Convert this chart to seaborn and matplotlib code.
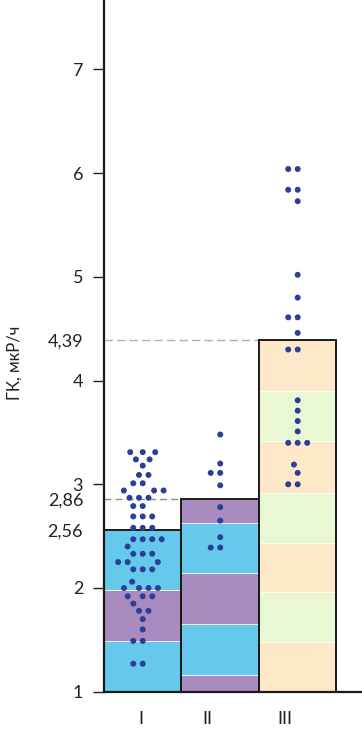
import numpy as np
import matplotlib
matplotlib.use("Agg")
import matplotlib.pyplot as plt
import pandas as pd
import seaborn as sns

# groups and mean values
groups = ["I", "II", "III"]
means = [2.56, 2.86, 4.39]

vals_I = [3.31, 3.31, 3.31, 3.24, 3.24, 3.18, 3.09, 3.09, 3.01, 3.01,
          2.94, 2.94, 2.94, 2.87, 2.87, 2.87, 2.79, 2.79, 2.69, 2.69,
          2.69, 2.58, 2.58, 2.58, 2.47, 2.47, 2.47, 2.47, 2.40, 2.33,
          2.33, 2.33, 2.25, 2.25, 2.25, 2.18, 2.18, 2.18, 2.06, 2.00,
          2.00, 2.00, 2.00, 1.92, 1.92, 1.92, 1.85, 1.78, 1.78, 1.70,
          1.60, 1.49, 1.49, 1.27, 1.27]
vals_II = [3.48, 3.20, 3.11, 3.11, 2.99, 2.78, 2.65, 2.49, 2.39, 2.39]
vals_III = [6.04, 6.04, 5.84, 5.84, 5.73, 5.02, 4.80, 4.61, 4.61, 4.46,
            4.30, 4.30, 3.81, 3.71, 3.61, 3.51, 3.40, 3.40, 3.40, 3.19,
            3.11, 3.00, 3.00]

# colour bands inside each bar (band edges, bottom to top)
bands_I = [1.0, 1.49, 1.98, 2.56]
bands_II = [1.0, 1.16, 1.65, 2.14, 2.63, 2.86]
bands_III = [1.0, 1.48, 1.96, 2.43, 2.92, 3.42, 3.90, 4.39]
band_colors_I = ["#66C9EB", "#A98BC0", "#66C9EB"]
band_colors_II = ["#A98BC0", "#66C9EB", "#A98BC0", "#66C9EB", "#A98BC0"]
band_colors_III = ["#FDE9C9", "#EAF7D3", "#FDE9C9", "#EAF7D3",
                   "#FDE9C9", "#EAF7D3", "#FDE9C9"]

yticks = [1, 2, 3, 4, 5, 6, 7]
extra_ticks = [2.56, 2.86, 4.39]
extra_labels = ["2,56", "2,86", "4,39"]

sns.set_theme(style="ticks")
plt.rcParams["font.family"] = ["Lato", "Open Sans", "DejaVu Sans"]

df = pd.DataFrame({
    "group": ["I"] * len(vals_I) + ["II"] * len(vals_II) + ["III"] * len(vals_III),
    "value": vals_I + vals_II + vals_III,
})

fig = plt.figure(figsize=(3.62, 7.30), dpi=100)
ax = fig.add_axes([104 / 362, 38.3 / 730, 258 / 362, 691.7 / 730])

# striped bars
all_bands = [bands_I, bands_II, bands_III]
all_colors = [band_colors_I, band_colors_II, band_colors_III]
for i, (edges, cols) in enumerate(zip(all_bands, all_colors)):
    lo = np.array(edges[:-1])
    hi = np.array(edges[1:])
    ax.bar([i] * len(lo), hi - lo, bottom=lo, width=1.0, color=cols,
           edgecolor="white", linewidth=0.5, zorder=1)

# bar outlines
ax.bar(range(len(groups)), np.array(means) - 1, bottom=1, width=1.0,
       fill=False, edgecolor="#1a1a1a", linewidth=1.4, zorder=2)

# dashed mean lines
ax.hlines(means[1], -0.5, 0.5, colors="#8c8c8c", linestyles=(0, (5, 3)),
          linewidth=1.0, zorder=1.5)
ax.hlines(means[2], -0.5, 1.5, colors="#b0b0b0", linestyles=(0, (6, 3)),
          linewidth=1.0, zorder=1.5)

sns.swarmplot(data=df, x="group", y="value", order=groups, ax=ax,
              color="#2A3F98", size=4.3, linewidth=2.2, edgecolor="none",
              zorder=3)

ax.set_xlim(-0.5, 2.83)
ax.set_ylim(1, 7.67)

ax.set_xticks([-0.03, 0.83, 1.83], groups)
ax.tick_params(axis="x", length=0, pad=14, labelsize=13, colors="#222222")

ax.set_yticks(yticks, [str(t) for t in yticks])
ax.set_yticks(extra_ticks, extra_labels, minor=True)
ax.tick_params(axis="y", which="major", length=8, width=1.0, pad=7,
               labelsize=13, colors="#222222")
ax.tick_params(axis="y", which="minor", length=0, pad=15, labelsize=13,
               labelcolor="#222222")

ax.set_xlabel("")
ax.set_ylabel("ГК, мкР/ч", fontsize=12, color="#222222")
ax.yaxis.set_label_coords(-0.315, 0.475)

sns.despine(ax=ax)
for side in ["left", "bottom"]:
    ax.spines[side].set_linewidth(1.6)
    ax.spines[side].set_color("#1a1a1a")

fig.savefig("out.png", dpi=100)
